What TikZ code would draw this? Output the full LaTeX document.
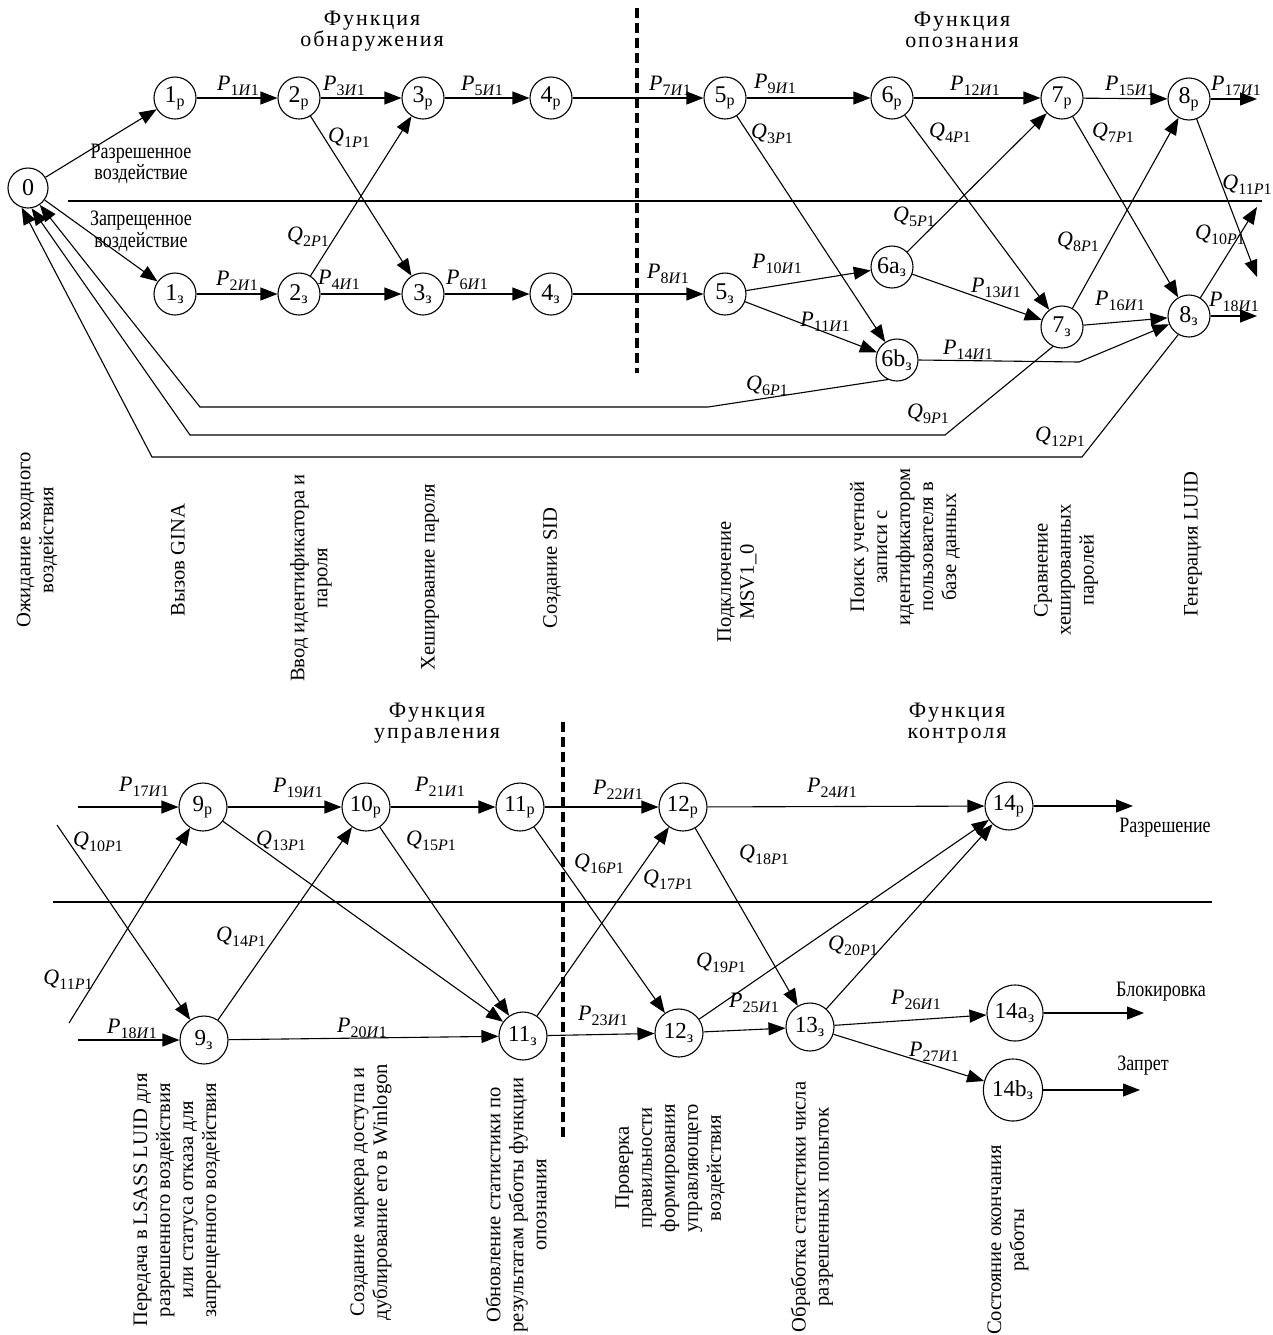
\documentclass[tikz,border=0pt]{standalone}
\usepackage{fontspec}
\setmainfont{Liberation Serif}
\newfontfamily\condfont[FakeStretch=0.82]{Liberation Serif}
\newfontfamily\spacedfont[LetterSpace=9]{Liberation Serif}
\usetikzlibrary{arrows.meta,shapes.geometric}
\newcommand{\nlab}[2]{#1\textsubscript{#2}}
\newcommand{\Plab}[1]{\textit{P}\raisebox{-2.6pt}{\fontsize{8}{8}\selectfont #1\textit{И}1}}
\newcommand{\Qlab}[1]{\textit{Q}\raisebox{-2.6pt}{\fontsize{8}{8}\selectfont #1\textit{Р}1}}
\tikzset{
 st/.style={circle, draw, line width=0.55pt, inner sep=0pt, minimum size=21pt, font=\fontsize{12}{12}\selectfont},
 stb/.style={st, minimum size=24pt, font=\fontsize{11.5}{11.5}\selectfont},
 arr/.style={line width=0.55pt, -{Triangle[length=8.5pt,width=6.5pt]}},
 ln/.style={line width=0.55pt},
 lbl/.style={font=\fontsize{11}{11}\selectfont, inner sep=0pt},
 rot/.style={rotate=90, align=center, font=\fontsize{10.3}{11.5}\selectfont, inner sep=0pt},
 ttl/.style={align=center, inner sep=0pt, font=\spacedfont\fontsize{11}{10.5}\selectfont},
 cond/.style={align=center, inner sep=0pt, font=\condfont\fontsize{11}{9.5}\selectfont},
 dsh/.style={line width=1.7pt, dash pattern=on 5pt off 2.5pt},
}
\begin{document}
\begin{tikzpicture}[x=0.5pt,y=-0.5pt]
\fill[white] (0,0) rectangle (1273,1335);
\useasboundingbox (0,0) rectangle (1273,1335);
% ---------------- TOP PART ----------------
\node[ttl] (t1) at (372,31) {Функция\\обнаружения};
\node[ttl] (t2) at (962,30) {Функция\\опознания};
\draw[ln] (68,201) -- (1262,201);
\draw[dsh] (637,8) -- (637,373);
\node[st,minimum size=20pt] (n0) at (28,188) {0};
\node[st] (n1p) at (175,98) {\nlab{1}{р}};
\node[st] (n2p) at (299,98) {\nlab{2}{р}};
\node[st] (n3p) at (423,98) {\nlab{3}{р}};
\node[st] (n4p) at (551,98) {\nlab{4}{р}};
\node[st] (n5p) at (725,98) {\nlab{5}{р}};
\node[st] (n6p) at (892,98) {\nlab{6}{р}};
\node[st] (n7p) at (1062,98) {\nlab{7}{р}};
\node[st] (n8p) at (1189,99) {\nlab{8}{р}};
\node[st] (n1z) at (175,294) {\nlab{1}{з}};
\node[st] (n2z) at (299,294) {\nlab{2}{з}};
\node[st] (n3z) at (423,294) {\nlab{3}{з}};
\node[st] (n4z) at (551,294) {\nlab{4}{з}};
\node[st] (n5z) at (725,294) {\nlab{5}{з}};
\node[st] (n6a) at (892,267) {\nlab{6a}{з}};
\node[st] (n6b) at (897,360) {\nlab{6b}{з}};
\node[st] (n7z) at (1062,327) {\nlab{7}{з}};
\node[st] (n8z) at (1189,316) {\nlab{8}{з}};
\coordinate (o8p) at (1257,99);
\coordinate (d8p) at (1257,277);
\coordinate (u8z) at (1257,207);
\coordinate (o8z) at (1257,316);
\coordinate (k14) at (1079,362);
\coordinate (k6a) at (708,407);
\coordinate (k6b) at (200,407);
\coordinate (k9a) at (945,435);
\coordinate (k9b) at (190,435);
\coordinate (k12a) at (1082,457);
\coordinate (k12b) at (152,457);
\draw[arr] (n0) -- (n1p);
\draw[arr] (n0) -- (n1z);
\draw[arr] (n1p) -- (n2p);
\draw[arr] (n2p) -- (n3p);
\draw[arr] (n3p) -- (n4p);
\draw[arr] (n4p) -- (n5p);
\draw[arr] (n5p) -- (n6p);
\draw[arr] (n6p) -- (n7p);
\draw[arr] (n7p) -- (n8p);
\draw[arr] (n8p) -- (o8p);
\draw[arr] (n1z) -- (n2z);
\draw[arr] (n2z) -- (n3z);
\draw[arr] (n3z) -- (n4z);
\draw[arr] (n4z) -- (n5z);
\draw[arr] (n2p) -- (n3z);
\draw[arr] (n2z) -- (n3p);
\draw[arr] (n5p) -- (n6b);
\draw[arr] (n5z) -- (n6a);
\draw[arr] (n5z) -- (n6b);
\draw[arr] (n6p) -- (n7z);
\draw[arr] (n6a) -- (n7p);
\draw[arr] (n6a) -- (n7z);
\draw[arr] (n7p) -- (n8z);
\draw[arr] (n7z) -- (n8p);
\draw[arr] (n7z) -- (n8z);
\draw[arr] (n8p) -- (d8p);
\draw[arr] (n8z) -- (u8z);
\draw[arr] (n8z) -- (o8z);
\draw[arr] (n6b.east) -- (k14) -- (n8z);
\draw[arr] (n6b.245) -- (k6a) -- (k6b) -- (n0.305);
\draw[arr] (n7z.245) -- (k9a) -- (k9b) -- (n0.280);
\draw[arr] (n8z.240) -- (k12a) -- (k12b) -- (n0.252);
% labels top
\node[cond] (lr) at (141,164) {Разрешенное\\воздействие};
\node[cond] (lz) at (141,231) {Запрещенное\\воздействие};
\node[lbl] (lP1) at (238,86) {\Plab{1}};
\node[lbl] (lP3) at (344,86) {\Plab{3}};
\node[lbl] (lQ1) at (349,138) {\Qlab{1}};
\node[lbl] (lQ2) at (308,237) {\Qlab{2}};
\node[lbl] (lP2) at (237,281) {\Plab{2}};
\node[lbl] (lP4) at (339,280) {\Plab{4}};
\node[lbl] (lP5) at (482,86) {\Plab{5}};
\node[lbl] (lP7) at (670,86) {\Plab{7}};
\node[lbl] (lP9) at (775,84) {\Plab{9}};
\node[lbl] (lQ3) at (772,134) {\Qlab{3}};
\node[lbl] (lP6) at (467,280) {\Plab{6}};
\node[lbl] (lP8) at (668,274) {\Plab{8}};
\node[lbl] (lP10) at (777,264) {\Plab{10}};
\node[lbl] (lP11) at (825,322) {\Plab{11}};
\node[lbl] (lP12) at (975,86) {\Plab{12}};
\node[lbl] (lP15) at (1130,86) {\Plab{15}};
\node[lbl] (lP17) at (1236,86) {\Plab{17}};
\node[lbl] (lQ4) at (950,133) {\Qlab{4}};
\node[lbl] (lQ7) at (1113,133) {\Qlab{7}};
\node[lbl] (lQ11) at (1247,185) {\Qlab{11}};
\node[lbl] (lQ5) at (914,217) {\Qlab{5}};
\node[lbl] (lQ8) at (1078,242) {\Qlab{8}};
\node[lbl] (lQ10) at (1220,235) {\Qlab{10}};
\node[lbl] (lP13) at (996,288) {\Plab{13}};
\node[lbl] (lP16) at (1120,301) {\Plab{16}};
\node[lbl] (lP18) at (1234,302) {\Plab{18}};
\node[lbl] (lP14) at (968,350) {\Plab{14}};
\node[lbl] (lQ6) at (767,386) {\Qlab{6}};
\node[lbl] (lQ9) at (928,414) {\Qlab{9}};
\node[lbl] (lQ12) at (1060,437) {\Qlab{12}};
% rotated texts top
\node[rot] (r0) at (37,540) {Ожидание входного\\воздействия};
\node[rot] (r1) at (178,560) {Вызов GINA};
\node[rot] (r2) at (311,578) {Ввод идентификатора и\\пароля};
\node[rot] (r3) at (430,577) {Хеширование пароля};
\node[rot] (r4) at (552,568) {Создание SID};
\node[rot] (r5) at (737,582) {Подключение\\MSV1\_0};
\node[rot] (r6) at (905,547) {Поиск учетной\\записи с\\идентификатором\\пользователя в\\базе данных};
\node[rot] (r7) at (1066,570) {Сравнение\\хешированных\\паролей};
\node[rot] (r8) at (1193,544) {Генерация LUID};
% ---------------- BOTTOM PART ----------------
\node[ttl] (t3) at (437,723) {Функция\\управления};
\node[ttl] (t4) at (957,723) {Функция\\контроля};
\draw[ln] (53,902) -- (1212,902);
\draw[dsh] (563,722) -- (563,1140);
\node[stb] (n9p) at (203,807) {\nlab{9}{р}};
\node[stb] (n10p) at (366,807) {\nlab{10}{р}};
\node[stb] (n11p) at (520,807) {\nlab{11}{р}};
\node[stb] (n12p) at (683,807) {\nlab{12}{р}};
\node[stb] (n14p) at (1009,806) {\nlab{14}{р}};
\node[stb] (n9z) at (204,1040) {\nlab{9}{з}};
\node[stb] (n11z) at (523,1036) {\nlab{11}{з}};
\node[stb] (n12z) at (679,1033) {\nlab{12}{з}};
\node[stb] (n13z) at (810,1027) {\nlab{13}{з}};
\node[stb,minimum size=28pt] (n14a) at (1015,1013) {\nlab{14a}{з}};
\node[ellipse,draw,line width=0.55pt,inner sep=0pt,minimum width=28pt,minimum height=31pt,font=\fontsize{11.5}{11.5}\selectfont] (n14b) at (1013,1090) {\nlab{14b}{з}};
\coordinate (i9p) at (78,807);
\coordinate (q10s) at (57,825);
\coordinate (q11s) at (69,1023);
\coordinate (i9z) at (78,1040);
\coordinate (o14p) at (1133,806);
\coordinate (o14a) at (1144,1013);
\coordinate (o14b) at (1140,1090);
\draw[arr] (i9p) -- (n9p);
\draw[arr] (q10s) -- (n9z);
\draw[arr] (q11s) -- (n9p);
\draw[arr] (i9z) -- (n9z);
\draw[arr] (n9p) -- (n10p);
\draw[arr] (n10p) -- (n11p);
\draw[arr] (n11p) -- (n12p);
\draw[arr] (n12p) -- (n14p);
\draw[arr] (n14p) -- (o14p);
\draw[arr] (n9p) -- (n11z);
\draw[arr] (n9z) -- (n10p);
\draw[arr] (n10p) -- (n11z);
\draw[arr] (n9z) -- (n11z);
\draw[arr] (n11p) -- (n12z);
\draw[arr] (n11z) -- (n12p);
\draw[arr] (n11z) -- (n12z);
\draw[arr] (n12p) -- (n13z);
\draw[arr] (n12z) -- (n14p);
\draw[arr] (n12z) -- (n13z);
\draw[arr] (n13z) -- (n14p);
\draw[arr] (n13z) -- (n14a);
\draw[arr] (n13z) -- (n14b);
\draw[arr] (n14a) -- (o14a);
\draw[arr] (n14b) -- (o14b);
% labels bottom
\node[lbl] (bP17) at (144,787) {\Plab{17}};
\node[lbl] (bP19) at (298,788) {\Plab{19}};
\node[lbl] (bP21) at (440,787) {\Plab{21}};
\node[lbl] (bP22) at (618,790) {\Plab{22}};
\node[lbl] (bP24) at (832,788) {\Plab{24}};
\node[lbl] (bQ10) at (98,842) {\Qlab{10}};
\node[lbl] (bQ13) at (281,841) {\Qlab{13}};
\node[lbl] (bQ15) at (431,841) {\Qlab{15}};
\node[lbl] (bQ16) at (599,864) {\Qlab{16}};
\node[lbl] (bQ17) at (668,880) {\Qlab{17}};
\node[lbl] (bQ18) at (764,855) {\Qlab{18}};
\node[lbl] (bQ14) at (241,937) {\Qlab{14}};
\node[lbl] (bQ11) at (68,980) {\Qlab{11}};
\node[lbl] (bQ19) at (721,963) {\Qlab{19}};
\node[lbl] (bQ20) at (853,946) {\Qlab{20}};
\node[lbl] (bP18) at (132,1029) {\Plab{18}};
\node[lbl] (bP20) at (362,1028) {\Plab{20}};
\node[lbl] (bP23) at (603,1016) {\Plab{23}};
\node[lbl] (bP25) at (754,1003) {\Plab{25}};
\node[lbl] (bP26) at (916,1000) {\Plab{26}};
\node[lbl] (bP27) at (934,1052) {\Plab{27}};
\node[cond] (xr) at (1165,828) {Разрешение};
\node[cond] (xb) at (1161,992) {Блокировка};
\node[cond] (xz) at (1143,1066) {Запрет};
% rotated texts bottom
\node[rot] (b1) at (177,1200) {Передача в LSASS LUID для\\разрешенного воздействия\\или статуса отказа для\\запрещенного воздействия};
\node[rot] (b2) at (371,1192) {Создание маркера доступа и\\дублирование его в Winlogon};
\node[rot] (b3) at (516,1205) {Обновление статистики по\\результатам работы функции\\опознания};
\node[rot] (b4) at (670,1168) {Проверка\\правильности\\формирования\\управляющего\\воздействия};
\node[rot] (b5) at (812,1207) {Обработка статистики числа\\разрешенных попыток};
\node[rot] (b6) at (1008,1240) {Состояние окончания\\работы};
\end{tikzpicture}
\end{document}
